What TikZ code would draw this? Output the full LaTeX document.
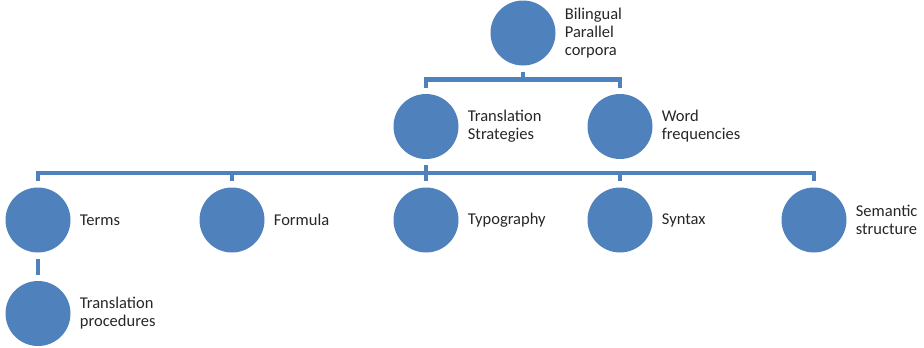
\documentclass[tikz,border=0pt]{standalone}
\usepackage{fontspec}
\setmainfont{Carlito}
\usepackage{tikz}
\definecolor{blobblue}{RGB}{79,129,189}
\definecolor{txtgray}{RGB}{38,38,38}

\begin{document}
\begin{tikzpicture}[level distance=93.5pt, sibling distance=194pt, font=\fontsize{16.5}{18}\selectfont,
	blob/.style={circle, fill=blobblue, minimum size=65pt, inner sep=0pt},
	every label/.style={align=left, inner xsep=9pt, inner ysep=0pt, text=txtgray},
	edge from parent/.style={draw=blobblue, line width=4.5pt},
	edge from parent path={([yshift=-6pt]\tikzparentnode.south) -- ++(0,-8pt) -| ([yshift=6pt]\tikzchildnode.north)}]
	\useasboundingbox (0,0) rectangle (924pt,-348pt);
    \node (corpora) [blob, label=right:{Bilingual\\Parallel\\corpora}] at (523pt,-33pt) {}
      child {node (strategies) [blob, label=right:{Translation\\Strategies}] {}
      {
        child {node (terms) [blob, label=right:Terms] {}
        {
          child {node (procedures) [blob, label=right:{Translation\\procedures}] {}}
        } }
        child {node (formula) [blob, label=right:Formula] {}}
        child {node (typography) [blob, label=right:Typography] {}}
        child {node (syntax) [blob, label=right:Syntax] {}}
        child {node (semantic) [blob, label=right:{Semantic\\structure}] {}}
      } }
      child {node (frequencies) [blob, label=right:{Word\\frequencies}] {}}
      ;
\end{tikzpicture}
\end{document}
